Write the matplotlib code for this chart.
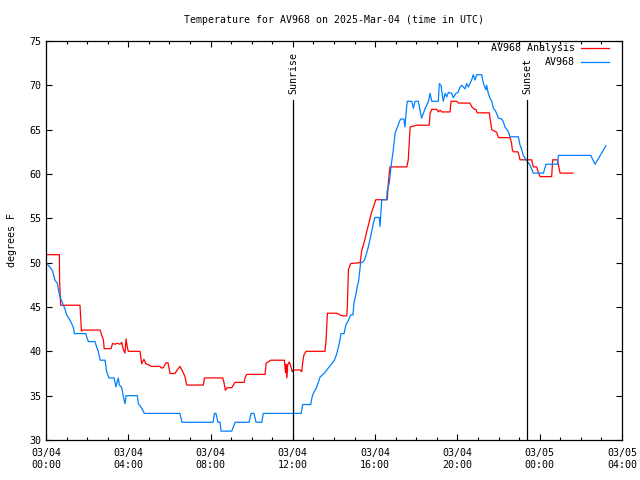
import matplotlib
matplotlib.use("Agg")
import matplotlib.pyplot as plt

# hours since 03/04 00:00 UTC
obs_h = [0, 0.19, 0.31, 0.44, 0.55, 0.63, 0.71, 0.81, 0.92, 1.01, 1.17, 1.25, 1.33, 1.38,
         1.94, 1.98, 2.06, 2.38, 2.46, 2.54, 2.63, 2.87, 2.95, 3.06, 3.31, 3.40, 3.51, 3.57,
         3.68, 3.76, 3.84, 3.89, 4.44, 4.49, 4.65, 4.78, 6.51, 6.61, 8.12, 8.19, 8.26, 8.36,
         8.46, 8.51, 9.03, 9.19, 9.87, 9.97, 10.11, 10.21, 10.49, 10.56, 12.40, 12.48, 12.87,
         12.92, 13.00, 13.13, 13.24, 13.32, 13.56, 13.68, 13.89, 14.02, 14.13, 14.26, 14.34,
         14.49, 14.58, 14.70, 14.81, 14.92, 14.97, 15.07, 15.13, 15.20, 15.27, 15.30, 15.43,
         15.51, 15.59, 15.67, 15.75, 15.83, 15.91, 15.99, 16.20, 16.24, 16.32, 16.56, 16.59,
         16.69, 16.77, 16.88, 16.97, 17.05, 17.18, 17.24, 17.40, 17.45, 17.50, 17.56, 17.78,
         17.86, 17.94, 18.10, 18.18, 18.26, 18.34, 18.43, 18.59, 18.67, 18.75, 19.07, 19.12,
         19.20, 19.31, 19.40, 19.48, 19.56, 19.72, 19.80, 19.93, 20.03, 20.13, 20.21, 20.37,
         20.45, 20.53, 20.61, 20.69, 20.77, 20.85, 20.94, 21.18, 21.23, 21.29, 21.39, 21.42,
         21.50, 21.59, 21.67, 21.75, 21.83, 21.91, 21.99, 22.15, 22.23, 22.31, 22.47, 22.56,
         22.96, 23.04, 23.13, 23.20, 23.34, 23.53, 23.69, 24.18, 24.31, 24.86, 24.91, 26.48,
         26.69, 27.22]
obs_t = [50.0, 49.5, 49.1, 48.0, 47.7, 46.6, 46.0, 45.4, 44.8, 44.1, 43.5, 43.1, 42.7, 42.0,
         42.0, 41.6, 41.1, 41.1, 40.5, 40.0, 39.0, 39.0, 37.7, 37.0, 37.0, 36.0, 37.0, 36.2,
         35.9, 34.9, 34.1, 35.0, 35.0, 34.1, 33.6, 33.0, 33.0, 32.0, 32.0, 33.0, 33.0, 32.0,
         32.0, 31.0, 31.0, 32.0, 32.0, 33.0, 33.0, 32.0, 32.0, 33.0, 33.0, 34.0, 34.0,
         34.7, 35.3, 35.8, 36.5, 37.1, 37.6, 38.0, 38.6, 39.0, 39.7, 40.9, 42.0,
         42.0, 43.0, 43.5, 44.1, 44.1, 45.4, 46.5, 47.3, 48.0, 49.5, 50.0, 50.1,
         50.5, 51.1, 51.8, 52.6, 53.5, 54.4, 55.1, 55.1, 54.1, 57.1, 57.1, 58.2,
         59.0, 60.8, 62.7, 64.6, 65.1, 65.9, 66.2, 66.2, 65.3, 66.8, 68.2, 68.2,
         67.4, 68.2, 68.2, 67.2, 66.3, 66.8, 67.4, 68.2, 69.1, 68.2, 68.2, 70.2,
         70.0, 68.2, 69.1, 68.7, 69.2, 69.1, 68.6, 69.1, 69.2, 69.8, 70.0, 69.6,
         70.2, 69.8, 70.2, 70.6, 71.2, 70.6, 71.2, 71.2, 70.6, 70.0, 69.5, 70.0,
         69.1, 68.5, 68.2, 67.4, 67.2, 66.8, 66.3, 66.2, 65.9, 65.3, 64.8, 64.2,
         64.2, 63.3, 62.7, 62.1, 61.6, 61.0, 60.1, 60.1, 61.1, 61.1, 62.1, 62.1,
         61.1, 63.2]

ana_h = [0, 0.65, 0.66, 0.71, 1.65, 1.69, 1.72, 1.81, 2.63, 2.71, 2.79, 2.83, 3.16, 3.24,
         3.35, 3.47, 3.60, 3.68, 3.76, 3.84, 3.89, 3.95, 4.00, 4.57, 4.65, 4.76, 4.86, 4.97,
         5.14, 5.54, 5.62, 5.71, 5.83, 5.93, 6.03, 6.27, 6.35, 6.51, 6.60, 6.67, 6.76, 6.84,
         7.65, 7.70, 8.59, 8.65, 8.72, 8.81, 9.03, 9.11, 9.19, 9.63, 9.69, 9.76, 10.65, 10.70,
         10.92, 11.59, 11.64, 11.67, 11.71, 11.75, 11.83, 11.90, 11.97, 12.02, 12.35, 12.43,
         12.48, 12.54, 12.64, 13.56, 13.61, 13.68, 14.13, 14.29, 14.45, 14.62, 14.65, 14.70,
         14.81, 15.27, 15.35, 15.43, 15.51, 15.59, 15.67, 15.75, 15.83, 15.95, 16.03, 16.59,
         16.64, 16.72, 17.54, 17.61, 17.70, 18.02, 18.63, 18.67, 18.75, 18.99, 19.07, 19.15,
         19.24, 19.64, 19.69, 19.97, 20.04, 20.61, 20.69, 20.82, 20.90, 20.96, 21.55, 21.59,
         21.67, 21.83, 21.91, 21.99, 22.56, 22.63, 22.67, 22.72, 22.94, 23.01, 23.04, 23.61,
         23.69, 23.85, 23.93, 24.02, 24.58, 24.63, 24.86, 24.91, 24.99, 25.61]
ana_t = [50.9, 50.9, 48.0, 45.2, 45.2, 43.7, 42.3, 42.4, 42.4, 41.8, 41.3, 40.3, 40.3, 40.9,
         40.8, 40.9, 40.8, 41.0, 40.2, 39.8, 41.4, 40.5, 40.0, 40.0, 38.6, 39.1, 38.6, 38.5,
         38.3, 38.3, 38.1, 38.2, 38.7, 38.7, 37.5, 37.5, 37.8, 38.3, 37.9, 37.6, 37.1, 36.2,
         36.2, 37.0, 37.0, 36.5, 35.6, 35.9, 35.9, 36.2, 36.5, 36.5, 37.1, 37.4, 37.4, 38.65,
         39.0, 39.0, 37.6, 38.5, 37.0, 38.5, 38.8, 38.3, 37.7, 37.9, 37.9, 37.7,
         38.8, 39.6, 40.0, 40.0, 41.1, 44.3, 44.3, 44.1, 44.0, 44.0, 45.2, 49.2,
         49.9, 50.0, 51.4, 52.0, 52.7, 53.5, 54.2, 55.0, 55.7, 56.5, 57.1, 57.1,
         59.0, 60.8, 60.8, 61.6, 65.3, 65.5, 65.5, 66.8, 67.3, 67.3, 67.0, 67.2,
         67.0, 67.0, 68.2, 68.2, 68.0, 68.0, 67.6, 67.3, 67.3, 66.9, 66.9, 66.2,
         65.0, 64.8, 64.7, 64.1, 64.1, 63.5, 62.7, 62.5, 62.5, 61.95, 61.6, 61.6,
         60.8, 60.8, 60.2, 59.7, 59.7, 61.6, 61.6, 61.0, 60.1, 60.1]

sun_h = [12.01, 23.38]
sun_labels = ["Sunrise", "Sunset"]

series_labels = ["AV968 Analysis", "AV968"]
series_colors = ["#ff0000", "#0080ff"]

xtick_h = [0, 4, 8, 12, 16, 20, 24, 28]
xtick_labels = ["03/04\n00:00", "03/04\n04:00", "03/04\n08:00", "03/04\n12:00",
                "03/04\n16:00", "03/04\n20:00", "03/05\n00:00", "03/05\n04:00"]
yticks = [30, 35, 40, 45, 50, 55, 60, 65, 70, 75]

FONT = "DejaVu Sans Mono"
FS = 7.2
plt.rcParams['font.family'] = FONT
plt.rcParams['font.size'] = FS

fig = plt.figure(figsize=(6.4, 4.8), dpi=100)
ax = fig.add_axes([46/640, 1-440/480, 576/640, 399/480])

ax.plot(ana_h, ana_t, color=series_colors[0], lw=0.9)
ax.plot(obs_h, obs_t, color=series_colors[1], lw=0.9)

for h, lab in zip(sun_h, sun_labels):
    ax.plot([h, h], [30, 68.3], color="black", lw=0.9)
    ax.text(h, 69.0, lab, rotation=90, ha="center", va="bottom", fontsize=FS)

# gnuplot-style key: text right-aligned, sample line to its right
key_y = [0.982, 0.947]
for lab, col, ky in zip(series_labels, series_colors, key_y):
    ax.text(0.918, ky, lab, transform=ax.transAxes, ha="right", va="center", fontsize=FS)
    ax.plot([0.929, 0.977], [ky, ky], transform=ax.transAxes, color=col, lw=0.9,
            clip_on=False)

ax.set_xlim(0, 28)
ax.set_ylim(30, 75)
ax.set_xticks(xtick_h)
ax.set_xticklabels(xtick_labels)
ax.set_xticks(range(0, 29), minor=True)
ax.set_yticks(yticks)
ax.tick_params(which="both", direction="in", top=True, right=True, labelsize=FS)
ax.tick_params(which="major", length=4.5, width=0.8)
ax.tick_params(which="minor", length=2.5, width=0.8)
ax.tick_params(axis="x", pad=6)
for s in ax.spines.values():
    s.set_linewidth(0.9)

ax.set_title("Temperature for AV968 on 2025-Mar-04 (time in UTC)", fontsize=7.1, pad=13)
ax.set_ylabel("degrees F", fontsize=FS, labelpad=9)

fig.savefig("out.png", dpi=100)
